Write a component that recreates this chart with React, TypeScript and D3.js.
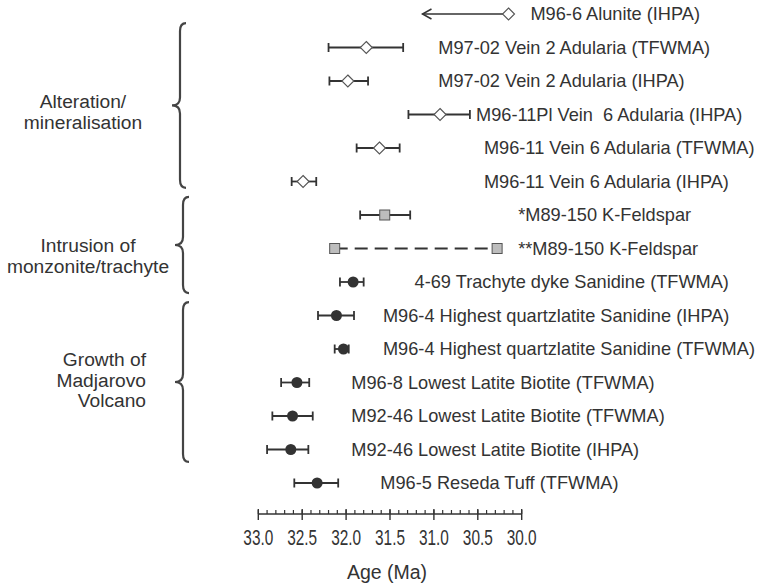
import React from "react";
import * as d3 from "d3";

// ---- data ----
const sampleLabels = [
  "M96-6 Alunite (IHPA)",
  "M97-02 Vein 2 Adularia (TFWMA)",
  "M97-02 Vein 2 Adularia (IHPA)",
  "M96-11Pl Vein  6 Adularia (IHPA)",
  "M96-11 Vein 6 Adularia (TFWMA)",
  "M96-11 Vein 6 Adularia (IHPA)",
  "*M89-150 K-Feldspar",
  "**M89-150 K-Feldspar",
  "4-69 Trachyte dyke Sanidine (TFWMA)",
  "M96-4 Highest quartzlatite Sanidine (IHPA)",
  "M96-4 Highest quartzlatite Sanidine (TFWMA)",
  "M96-8 Lowest Latite Biotite (TFWMA)",
  "M92-46 Lowest Latite Biotite (TFWMA)",
  "M92-46 Lowest Latite Biotite (IHPA)",
  "M96-5 Reseda Tuff (TFWMA)",
];
// age of the marker (Ma)
const ages = [30.15, 31.77, 31.98, 30.93, 31.62, 32.49, 31.56, 32.13, 31.92, 32.11, 32.03, 32.56, 32.61, 32.63, 32.33];
// older end of the error bar (Ma), null if none
const errOld = [null, 32.2, 32.19, 31.29, 31.88, 32.62, 31.84, null, 32.07, 32.32, 32.13, 32.74, 32.84, 32.9, 32.59];
// younger end (Ma) — for arrow: arrow tip; for range: second square
const errYoung = [31.13, 31.35, 31.75, 30.59, 31.39, 32.34, 31.27, 30.28, 31.8, 31.91, 31.97, 32.42, 32.38, 32.43, 32.09];
const kinds = ["arrow", "bar", "bar", "bar", "bar", "bar", "bar", "range", "bar", "bar", "bar", "bar", "bar", "bar", "bar"];
const markers = ["diamond", "diamond", "diamond", "diamond", "diamond", "diamond", "square", "square", "circle", "circle", "circle", "circle", "circle", "circle", "circle"];
// age where each label starts (Ma)
const labelAt = [29.9, 30.95, 30.95, 30.52, 30.43, 30.43, 30.04, 30.04, 31.22, 31.58, 31.58, 31.94, 31.94, 31.94, 31.61];

const groupNames = [["Alteration/", "mineralisation"], ["Intrusion of", "monzonite/trachyte"], ["Growth of", "Madjarovo", "Volcano"]];
const groupFrom = [0.27, 5.46, 8.6];
const groupTo = [5.19, 8.33, 13.37];

const axisDomain = [33, 30];
const axisTitle = "Age (Ma)";

const FONT = "'Liberation Sans', Arial, Helvetica, sans-serif";
const INK = "#333";

export default function App() {
  const W = 768, H = 584;
  const x = d3.scaleLinear().domain(axisDomain).range([258.3, 521.7]);
  const rowY = d3.scaleLinear().domain([0, sampleLabels.length - 1]).range([14, 483]);
  const axisY = 514;
  const major = x.ticks(6);
  const minor = x.ticks(30);
  const fmt = d3.format(".1f");

  const bracePath = (bx: number, y0: number, y1: number) => {
    const ym = (y0 + y1) / 2;
    const w = 6, r = 8, t = 8;
    return `M${bx + w},${y0} Q${bx},${y0} ${bx},${y0 + r} L${bx},${ym - r} Q${bx},${ym} ${bx - t},${ym} Q${bx},${ym} ${bx},${ym + r} L${bx},${y1 - r} Q${bx},${y1} ${bx + w},${y1}`;
  };
  const braceX = [180, 183, 183];
  const groupLabelX = [83, 88, 146];
  const groupAnchor = ["middle", "middle", "end"];
  const groupFirstBaseline = [108, 252, 366];
  const lineGap = 20.5;

  return (
    <svg width={W} height={H} style={{ position: "absolute", left: 0, top: 0, background: "#fff" }} fontFamily={FONT}>
      <rect width={W} height={H} fill="#fff" />
      {/* braces and group labels */}
      {groupNames.map((lines, g) => (
        <g key={"g" + g}>
          <path d={bracePath(braceX[g], rowY(groupFrom[g]), rowY(groupTo[g]))} fill="none" stroke="#444" strokeWidth={2.2} />
          {lines.map((ln, k) => (
            <text key={k} x={groupLabelX[g]} y={groupFirstBaseline[g] + k * lineGap} textAnchor={groupAnchor[g]} fontSize={19.2} fill={INK}>
              {ln}
            </text>
          ))}
        </g>
      ))}
      {/* rows */}
      {sampleLabels.map((lab, i) => {
        const y = rowY(i);
        const cx = x(ages[i]);
        const kind = kinds[i];
        const m = markers[i];
        const parts: any[] = [];
        if (kind === "arrow") {
          const tip = x(errYoung[i]);
          parts.push(<line key="l" x1={cx} x2={tip} y1={y} y2={y} stroke={INK} strokeWidth={1.5} />);
          parts.push(<path key="h" d={`M${tip + 9},${y - 5} L${tip},${y} L${tip + 9},${y + 5}`} fill="none" stroke={INK} strokeWidth={1.5} />);
        } else if (kind === "bar") {
          const a = x(errOld[i] as number), b = x(errYoung[i]);
          parts.push(<line key="l" x1={a} x2={b} y1={y} y2={y} stroke={INK} strokeWidth={1.8} />);
          parts.push(<line key="c1" x1={a} x2={a} y1={y - 4.5} y2={y + 4.5} stroke={INK} strokeWidth={1.8} />);
          parts.push(<line key="c2" x1={b} x2={b} y1={y - 4.5} y2={y + 4.5} stroke={INK} strokeWidth={1.8} />);
        } else if (kind === "range") {
          const b = x(errYoung[i]);
          parts.push(<line key="l" x1={cx} x2={b} y1={y} y2={y} stroke={INK} strokeWidth={1.8} strokeDasharray="13,7" />);
          parts.push(<rect key="s2" x={b - 5} y={y - 5} width={10} height={10} fill="#bdbdbd" stroke="#555" strokeWidth={1} />);
        }
        if (m === "diamond") {
          parts.push(<path key="m" d={`M${cx},${y - 6} L${cx + 6},${y} L${cx},${y + 6} L${cx - 6},${y} Z`} fill="#fff" stroke="#555" strokeWidth={1.1} />);
        } else if (m === "square") {
          parts.push(<rect key="m" x={cx - 5} y={y - 5} width={10} height={10} fill="#bdbdbd" stroke="#555" strokeWidth={1} />);
        } else {
          parts.push(<circle key="m" cx={cx} cy={y} r={5.5} fill="#333" />);
        }
        return (
          <g key={"r" + i}>
            {parts}
            <text x={x(labelAt[i])} y={y} dy="0.35em" fontSize={18.2} fill={INK} style={{ whiteSpace: "pre" }}>
              {lab}
            </text>
          </g>
        );
      })}
      {/* axis */}
      <g>
        <line x1={x(axisDomain[0])} x2={x(axisDomain[1])} y1={axisY} y2={axisY} stroke={INK} strokeWidth={1.6} />
        {minor.map((t, k) => (
          <line key={"mn" + k} x1={x(t)} x2={x(t)} y1={axisY - 4} y2={axisY} stroke={INK} strokeWidth={1.2} />
        ))}
        {major.map((t, k) => (
          <g key={"mj" + k}>
            <line x1={x(t)} x2={x(t)} y1={axisY - 5} y2={axisY + 6} stroke={INK} strokeWidth={1.4} />
            <text transform={`translate(${x(t)},545) scale(0.7,1)`} textAnchor="middle" fontSize={22} fill={INK}>
              {fmt(t)}
            </text>
          </g>
        ))}
        <text x={387} y={579} textAnchor="middle" fontSize={19.5} fill={INK}>
          {axisTitle}
        </text>
      </g>
    </svg>
  );
}
